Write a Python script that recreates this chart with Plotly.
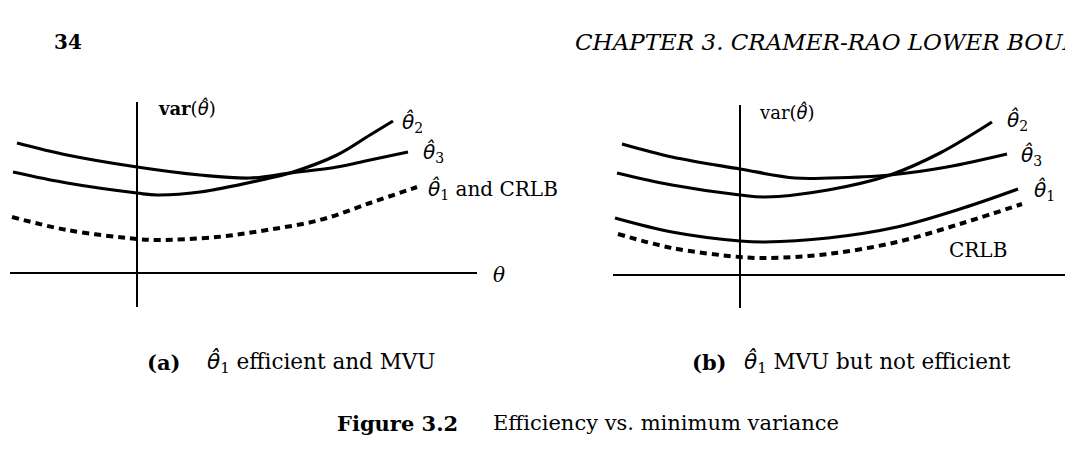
import plotly.graph_objects as go

# ---------------- data ----------------
# Panel (a): theta positions and variances (axis origin at theta=0, var=0)
a_theta3_x = [-1.20, -0.70, 0.00, 0.63, 1.13, 1.53, 2.00, 2.33, 2.71]
a_theta3_y = [1.30, 1.18, 1.06, 0.98, 0.95, 1.00, 1.06, 1.13, 1.21]
a_theta2_x = [-1.24, -0.70, 0.00, 0.20, 0.63, 1.33, 1.53, 2.00, 2.33, 2.56]
a_theta2_y = [1.01, 0.90, 0.80, 0.78, 0.81, 0.95, 1.00, 1.18, 1.38, 1.52]
a_crlb_x = [-1.25, -0.70, 0.00, 0.20, 0.80, 1.30, 1.83, 2.33, 2.80]
a_crlb_y = [0.56, 0.43, 0.34, 0.33, 0.36, 0.43, 0.53, 0.70, 0.86]

# Panel (b)
b_theta3_x = [-1.18, -0.68, 0.00, 0.55, 0.90, 1.50, 2.07, 2.67]
b_theta3_y = [1.31, 1.18, 1.06, 0.97, 0.97, 1.00, 1.08, 1.21]
b_theta2_x = [-1.23, -0.68, 0.00, 0.25, 0.88, 1.50, 2.00, 2.52]
b_theta2_y = [1.02, 0.90, 0.80, 0.78, 0.85, 1.00, 1.22, 1.53]
b_theta1_x = [-1.25, -0.68, 0.00, 0.25, 0.88, 1.57, 2.23, 2.78]
b_theta1_y = [0.57, 0.43, 0.34, 0.33, 0.37, 0.48, 0.67, 0.86]
b_crlb_x = [-1.22, -0.68, 0.00, 0.28, 0.88, 1.57, 2.23, 2.82]
b_crlb_y = [0.41, 0.27, 0.18, 0.17, 0.21, 0.33, 0.52, 0.71]

# theta-hat: combining circumflex, drawn with a font that positions it correctly
TH = '<span style="font-family:DejaVu Sans;font-style:italic">θ\u0302</span>'
label_var_a = "<b>var</b>(" + TH + ")"
label_var_b = "var(" + TH + ")"
label_t2 = TH + "<sub>2</sub>"
label_t3 = TH + "<sub>3</sub>"
label_t1 = TH + "<sub>1</sub>"
label_t1_crlb = TH + "<sub>1</sub> and CRLB"
label_crlb = "CRLB"
label_theta = "<i>θ</i>"
cap_a_tag = "<b>(a)</b>"
cap_a_text = TH + "<sub>1</sub> efficient and MVU"
cap_b_tag = "<b>(b)</b>"
cap_b_text = TH + "<sub>1</sub> MVU but not efficient"
fig_tag = "<b>Figure 3.2</b>"
fig_text = "Efficiency vs. minimum variance"
page_no = "<b>34</b>"
header = "<i>CHAPTER 3. CRAMER-RAO LOWER BOUND</i>"

# ---------------- figure ----------------
W, H = 1065, 470
FONT = "DejaVu Serif"


def px(x):
    return x / W


def py(y):
    return 1 - y / H


fig = go.Figure()

solid = dict(color="black", width=3.2, shape="spline", smoothing=1.0)
dotted = dict(color="black", width=4, dash="7px,5px", shape="spline", smoothing=1.0)

fig.add_trace(go.Scatter(x=a_theta3_x, y=a_theta3_y, mode="lines", line=solid, xaxis="x", yaxis="y"))
fig.add_trace(go.Scatter(x=a_theta2_x, y=a_theta2_y, mode="lines", line=solid, xaxis="x", yaxis="y"))
fig.add_trace(go.Scatter(x=a_crlb_x, y=a_crlb_y, mode="lines", line=dotted, xaxis="x", yaxis="y"))

fig.add_trace(go.Scatter(x=b_theta3_x, y=b_theta3_y, mode="lines", line=solid, xaxis="x2", yaxis="y2"))
fig.add_trace(go.Scatter(x=b_theta2_x, y=b_theta2_y, mode="lines", line=solid, xaxis="x2", yaxis="y2"))
fig.add_trace(go.Scatter(x=b_theta1_x, y=b_theta1_y, mode="lines", line=solid, xaxis="x2", yaxis="y2"))
fig.add_trace(go.Scatter(x=b_crlb_x, y=b_crlb_y, mode="lines", line=dotted, xaxis="x2", yaxis="y2"))

axis_common = dict(showgrid=False, showticklabels=False, ticks="", showline=False,
                   zeroline=True, zerolinecolor="black", zerolinewidth=2, fixedrange=True)

# panel (a): x pixels 10..477, origin at 137 ; y pixels 102..307, origin at 273
# panel (b): x pixels 613..1065, origin at 740 ; y pixels 105..308, origin at 275
fig.update_layout(
    xaxis=dict(domain=[px(10), px(477)], range=[(10 - 137) / 100, (477 - 137) / 100], anchor="y", **axis_common),
    yaxis=dict(domain=[py(307), py(102)], range=[(273 - 307) / 100, (273 - 102) / 100], anchor="x", **axis_common),
    xaxis2=dict(domain=[px(613), px(1065)], range=[(613 - 740) / 100, (1065 - 740) / 100], anchor="y2", **axis_common),
    yaxis2=dict(domain=[py(308), py(105)], range=[(275 - 308) / 100, (275 - 105) / 100], anchor="x2", **axis_common),
)

ann = []


def add_text(text, x, y, size=20, xanchor="left", yanchor="middle"):
    ann.append(dict(text=text, x=px(x), y=py(y), xref="paper", yref="paper",
                    xanchor=xanchor, yanchor=yanchor, showarrow=False,
                    font=dict(family=FONT, size=size, color="black")))


# header
add_text(page_no, 52, 42, size=20)
add_text(header, 573, 42, size=23)

# panel (a) labels
add_text(label_var_a, 156, 108, size=18)
add_text(label_t2, 400, 122)
add_text(label_t3, 421, 152)
add_text(label_t1_crlb, 426, 189)
add_text(label_theta, 491, 275)

# panel (b) labels
add_text(label_var_b, 757, 112, size=18)
add_text(label_t2, 1005, 121)
add_text(label_t3, 1019, 155)
add_text(label_t1, 1032, 190)
add_text(label_crlb, 947, 250)

# captions
add_text(cap_a_tag, 145, 362, size=21)
add_text(cap_a_text, 205, 362, size=21.5)
add_text(cap_b_tag, 690, 362, size=21)
add_text(cap_b_text, 742, 362, size=21.5)
add_text(fig_tag, 335, 423, size=21)
add_text(fig_text, 491, 423, size=21)

fig.update_layout(
    annotations=ann,
    width=W, height=H,
    margin=dict(l=0, r=0, t=0, b=0),
    paper_bgcolor="white", plot_bgcolor="rgba(0,0,0,0)",
    showlegend=False,
)

fig.write_html(
    "out.html",
    config={"displayModeBar": False},
    post_script="document.body.style.margin='0';document.body.style.overflow='hidden';",
)
